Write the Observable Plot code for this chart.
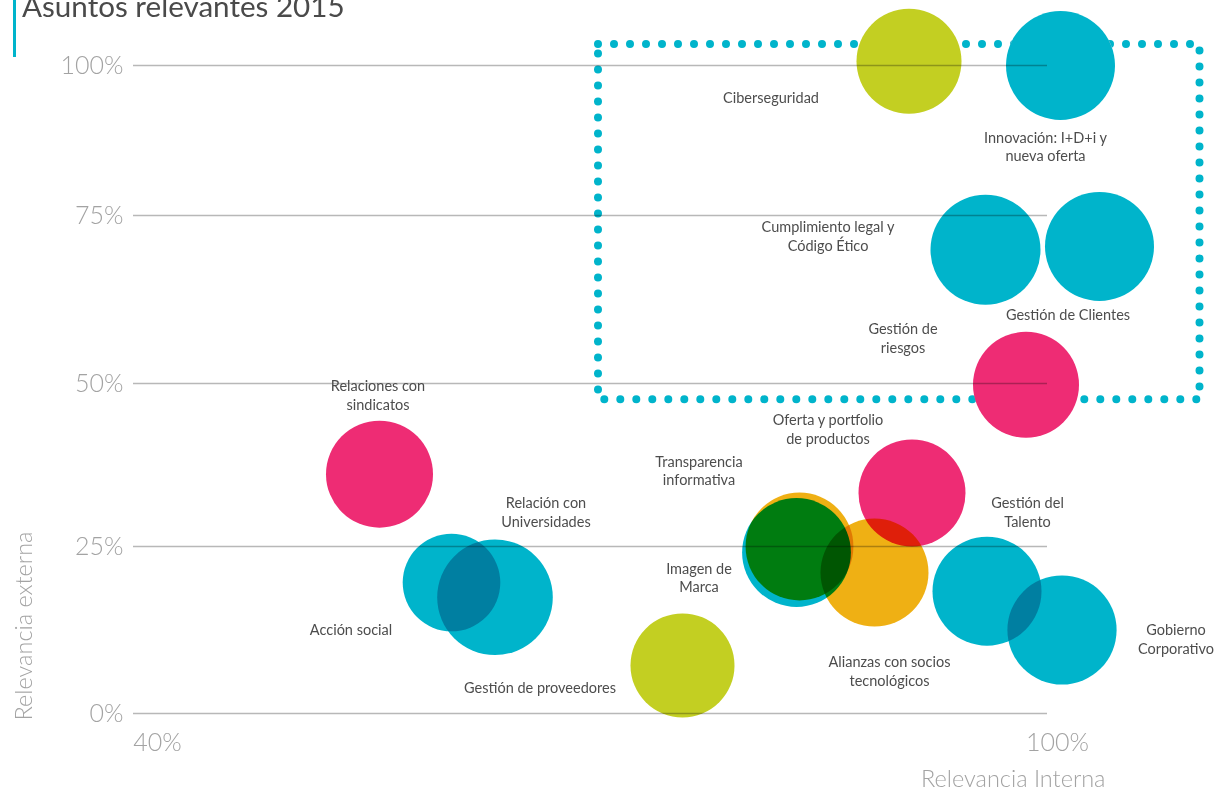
<!DOCTYPE html>
<html lang="es">
<head>
<meta charset="utf-8">
<script src="https://cdn.jsdelivr.net/npm/d3@7"></script>
<script src="https://cdn.jsdelivr.net/npm/@observablehq/plot@0.6"></script>
<style>
  html, body { margin: 0; padding: 0; background: #fff; overflow: hidden; }
  #wrap { position: relative; width: 1214px; height: 792px; }
  #bar { position: absolute; left: 13px; top: 0; width: 3px; height: 57px; background: #00b4cb; }
  #title { position: absolute; left: 22px; top: -12px; margin: 0; font: 400 29.6px Lato, sans-serif; color: #4a4a4a; white-space: nowrap; }
  #chart { position: absolute; left: 0; top: 0; }
</style>
</head>
<body>
<div id="wrap">
  <div id="chart"></div>
  <div id="bar"></div>
  <h1 id="title">Asuntos relevantes 2015</h1>
</div>
<script>
// ---- Data ----
const temas = [
  "Ciberseguridad",
  "Innovación: I+D+i y\nnueva oferta",
  "Cumplimiento legal y\nCódigo Ético",
  "Gestión de Clientes",
  "Gestión de\nriesgos",
  "Relaciones con\nsindicatos",
  "Acción social",
  "Relación con\nUniversidades",
  "Gestión de proveedores",
  "Imagen de\nMarca",
  "Transparencia\ninformativa",
  "Oferta y portfolio\nde productos",
  "Alianzas con socios\ntecnológicos",
  "Gestión del\nTalento",
  "Gobierno\nCorporativo"
];
// Relevancia interna (%)
const relInterna = [90.1, 100.2, 95.2, 102.8, 97.9, 54.8, 59.6, 62.5, 75.0, 82.6, 82.8, 90.3, 87.8, 95.3, 100.3];
// Relevancia externa (%)
const relExterna = [100.7, 100.0, 69.9, 70.4, 49.8, 36.1, 19.6, 17.4, 7.2, 24.1, 25.0, 33.2, 21.1, 18.3, 12.5];
// Peso (tamaño de la burbuja)
const peso = [52.5, 54.5, 55, 54.5, 53, 53.5, 48.8, 57.8, 52, 54.4, 53.9, 53.5, 54, 54.5, 54.6];
// Grupo (color)
const grupo = ["lima","turquesa","turquesa","turquesa","rosa","rosa","turquesa","turquesa","lima","turquesa","naranja","rosa","naranja","turquesa","turquesa"];
// Label anchor (in % units)
const etiquetaX = [80.9, 99.2, 84.7, 100.7, 89.7, 54.7, 52.9, 65.9, 65.5, 76.1, 76.1, 84.7, 88.8, 98.0, 107.9];
const etiquetaY = [94.8, 86.6, 72.0, 60.4, 56.8, 48.3, 12.6, 30.4, 4.0, 20.4, 36.7, 43.1, 6.4, 30.4, 11.2];

const grupos = ["turquesa", "rosa", "naranja", "lima"];
const colores = ["#00b4cb", "#ee2c74", "#efb014", "#c3cf22"];

const yTicks = [0, 25, 50, 75, 100];
const xTicks = [40, 100];
// Zona destacada (asuntos materiales)
const zonaX = [69.4, 109.5];
const zonaY = [47.5, 103.5];

const asuntos = temas.map((t, i) => ({
  tema: t, x: relInterna[i], y: relExterna[i], peso: peso[i], grupo: grupo[i],
  lx: etiquetaX[i], ly: etiquetaY[i]
}));

const gridColor = "#b8b8b8";
const tickColor = "#a3a3a3";

const chart = Plot.plot({
  width: 1214,
  height: 792,
  marginLeft: 133,
  marginRight: 167,
  marginTop: 0,
  marginBottom: 0,
  style: { fontFamily: "Lato, sans-serif", background: "transparent", overflow: "visible" },
  x: { domain: [40, 100], range: [157, 1057], axis: null },
  y: { type: "linear", domain: [0, 25, 50, 75, 100], range: [713, 546, 383, 215, 65], axis: null },
  r: { type: "linear", domain: [0, 60], range: [0, 60] },
  color: { domain: grupos, range: colores },
  marks: [
    // dotted highlight frame
    Plot.rect([{x1: zonaX[0], x2: zonaX[1], y1: zonaY[0], y2: zonaY[1]}], {
      x1: "x1", x2: "x2", y1: "y1", y2: "y2",
      fill: "none", stroke: "#00b4cb", strokeWidth: 8,
      strokeDasharray: "0 16", strokeLinecap: "round"
    }),
    // white knock-out under bubbles (hide dots)
    Plot.dot(asuntos, { x: "x", y: "y", r: "peso", fill: "white", stroke: null, className: "knock" }),
    // gridlines
    Plot.ruleY(yTicks, { stroke: gridColor, strokeWidth: 1.3 }),
    // y tick labels
    Plot.text(yTicks, {
      y: d => d, text: d => d + "%", frameAnchor: "left", textAnchor: "end", dx: -10,
      fontSize: 25, fontWeight: 300, fill: tickColor
    }),
    // x tick labels
    Plot.text(xTicks, {
      x: d => d, y: () => 0, dy: 29, text: d => d + "%",
      fontSize: 25, fontWeight: 300, fill: tickColor
    }),
    // axis titles
    Plot.text(["Relevancia Interna"], {
      x: () => 100, y: () => 0, text: d => d, textAnchor: "end", dx: 48, dy: 66,
      fontSize: 23.5, fontWeight: 300, fill: tickColor
    }),
    Plot.text(["Relevancia externa"], {
      y: () => 0, frameAnchor: "left", text: d => d, textAnchor: "start", rotate: -90,
      dx: -109, dy: 7, fontSize: 23.5, fontWeight: 300, fill: tickColor
    }),
    // bubbles
    Plot.dot(asuntos, { x: "x", y: "y", r: "peso", fill: "grupo", stroke: null, fillOpacity: 1, className: "burbuja" }),
    // labels
    Plot.text(asuntos, {
      x: "lx", y: "ly", text: "tema", fontSize: 14.5, fill: "#4d4d4d",
      lineHeight: 1.28, lineAnchor: "middle"
    })
  ]
});

document.getElementById("chart").appendChild(chart);
d3.select(chart).selectAll(".burbuja circle").style("mix-blend-mode", "multiply");
d3.select(chart).selectAll("line").style("mix-blend-mode", "multiply");
</script>
</body>
</html>
